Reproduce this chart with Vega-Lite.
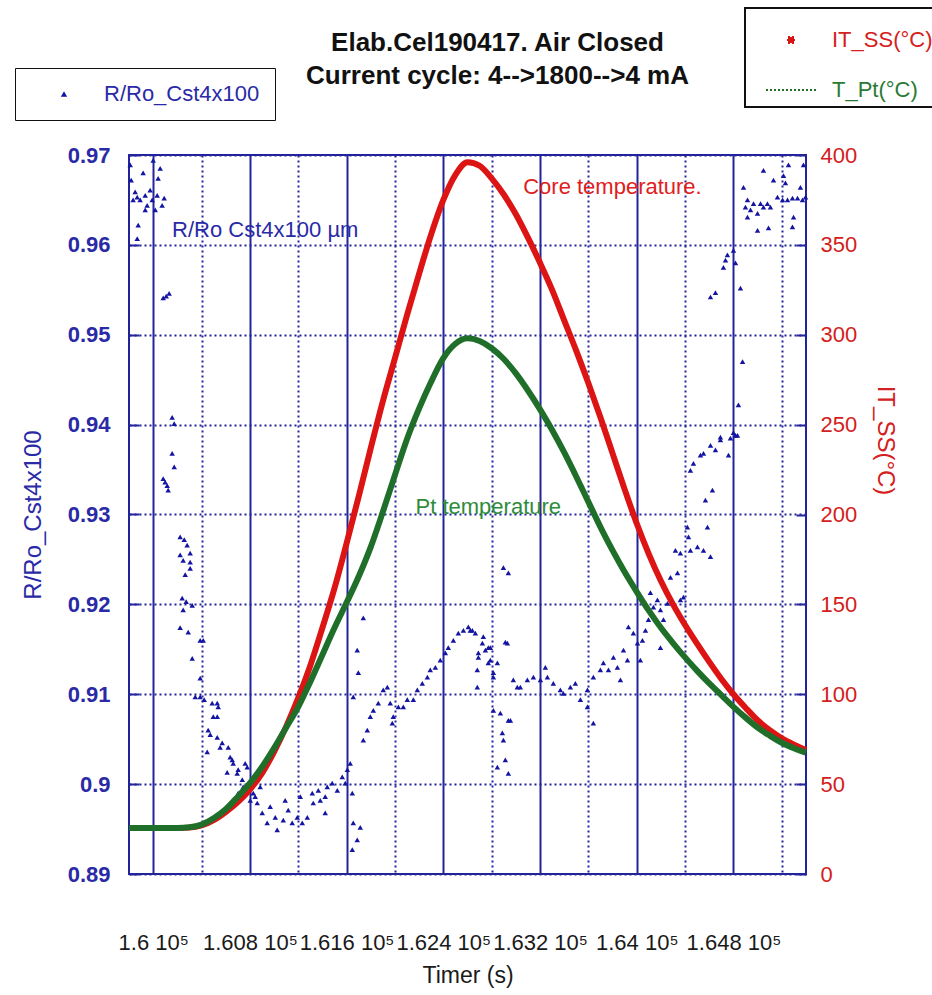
{
  "$schema": "https://vega.github.io/schema/vega-lite/v6.json",
  "width": 677,
  "height": 719,
  "autosize": "none",
  "padding": {"left": 129, "top": 155, "right": 126, "bottom": 121},
  "background": "white",
  "config": {
    "view": {"stroke": "#22229a", "strokeWidth": 2},
    "font": "Liberation Sans"
  },
  "title": {
    "text": ["Elab.Cel190417. Air Closed", "Current cycle: 4-->1800-->4 mA"],
    "anchor": "middle",
    "frame": "group",
    "dx": 30,
    "offset": -82,
    "fontSize": 26,
    "fontWeight": "bold",
    "font": "Liberation Sans",
    "color": "#111111",
    "lineHeight": 33
  },
  "datasets": {
    "pts": [
      {"t":159810,"v":0.9689},{"t":159818,"v":0.9672},{"t":159851,"v":0.9659},{"t":159868,"v":0.9653},{"t":159892,"v":0.9650},
      {"t":159917,"v":0.9680},{"t":159934,"v":0.9655},{"t":159950,"v":0.9644},{"t":159975,"v":0.9661},{"t":159992,"v":0.9650},
      {"t":160017,"v":0.9639},{"t":160033,"v":0.9655},{"t":160058,"v":0.9685},{"t":160074,"v":0.9644},{"t":160091,"v":0.9652},
      {"t":159876,"v":0.9622},{"t":159868,"v":0.9607},{"t":160000,"v":0.9694},{"t":160041,"v":0.9674},{"t":159934,"v":0.9639},
      {"t":159834,"v":0.9650},
      {"t":160083,"v":0.9541},{"t":160108,"v":0.9543},{"t":160132,"v":0.9546},
      {"t":160157,"v":0.9408},{"t":160174,"v":0.9401},{"t":160157,"v":0.9368},{"t":160174,"v":0.9353},{"t":160099,"v":0.9336},
      {"t":160124,"v":0.9327},{"t":160083,"v":0.9340},{"t":160116,"v":0.9332},
      {"t":160223,"v":0.9275},{"t":160257,"v":0.9272},{"t":160281,"v":0.9266},{"t":160306,"v":0.9257},{"t":160223,"v":0.9255},
      {"t":160248,"v":0.9249},{"t":160306,"v":0.9247},{"t":160265,"v":0.9233},{"t":160306,"v":0.9240},{"t":160240,"v":0.9207},
      {"t":160273,"v":0.9203},{"t":160323,"v":0.9199},
      {"t":160248,"v":0.9194},{"t":160223,"v":0.9174},{"t":160290,"v":0.9169},{"t":160389,"v":0.9160},{"t":160414,"v":0.9160},
      {"t":160323,"v":0.9140},{"t":160389,"v":0.9118},{"t":160348,"v":0.9097},{"t":160389,"v":0.9097},{"t":160422,"v":0.9094},
      {"t":160488,"v":0.9090},{"t":160530,"v":0.9090},{"t":160538,"v":0.9086},{"t":160497,"v":0.9075},{"t":160530,"v":0.9075},
      {"t":160455,"v":0.9060},{"t":160472,"v":0.9055},{"t":160530,"v":0.9052},{"t":160571,"v":0.9046},{"t":160621,"v":0.9041},
      {"t":160554,"v":0.9041},{"t":160447,"v":0.9036},{"t":160637,"v":0.9030},{"t":160654,"v":0.9027},{"t":160662,"v":0.9023},
      {"t":160612,"v":0.9013},{"t":160695,"v":0.9012},{"t":160703,"v":0.9016},{"t":160761,"v":0.9023},{"t":160778,"v":0.9019},
      {"t":160737,"v":0.9005},{"t":160745,"v":0.8997},{"t":160703,"v":0.8990},{"t":160803,"v":0.8982},{"t":160828,"v":0.8990},
      {"t":160844,"v":0.8986},{"t":160861,"v":0.8979},{"t":160902,"v":0.8968},{"t":160943,"v":0.8957},{"t":160968,"v":0.8975},
      {"t":161010,"v":0.8963},{"t":161026,"v":0.8949},{"t":161076,"v":0.8960},{"t":161117,"v":0.8971},{"t":161150,"v":0.8957},
      {"t":161192,"v":0.8963},{"t":161233,"v":0.8957},{"t":161275,"v":0.8963},{"t":161316,"v":0.8990},{"t":161324,"v":0.8979},
      {"t":161366,"v":0.8993},{"t":161423,"v":0.8986},{"t":161440,"v":0.8997},{"t":161481,"v":0.9001},{"t":161523,"v":0.8993},
      {"t":161564,"v":0.9008},{"t":161589,"v":0.9001},{"t":161606,"v":0.9016},{"t":161630,"v":0.9023},{"t":161647,"v":0.8990},
      {"t":161423,"v":0.8968},{"t":161655,"v":0.8957},{"t":161713,"v":0.8952},{"t":161688,"v":0.8938},{"t":161647,"v":0.8927},
      {"t":161738,"v":0.9185},{"t":161688,"v":0.9149},{"t":161697,"v":0.9124},{"t":161655,"v":0.9097},
      {"t":160885,"v":0.8997},{"t":161092,"v":0.8982},{"t":161217,"v":0.8986},{"t":161382,"v":0.8982},
      {"t":161738,"v":0.9049},{"t":161771,"v":0.9060},{"t":161796,"v":0.9075},{"t":161821,"v":0.9082},{"t":161862,"v":0.9090},
      {"t":161903,"v":0.9105},{"t":161937,"v":0.9108},{"t":161961,"v":0.9090},{"t":161986,"v":0.9075},{"t":161978,"v":0.9068},
      {"t":162028,"v":0.9086},{"t":162069,"v":0.9086},{"t":162102,"v":0.9094},{"t":162152,"v":0.9094},{"t":162185,"v":0.9105},
      {"t":162226,"v":0.9112},{"t":162268,"v":0.9119},{"t":162292,"v":0.9127},{"t":162334,"v":0.9130},{"t":162375,"v":0.9138},
      {"t":162417,"v":0.9146},{"t":162441,"v":0.9152},{"t":162483,"v":0.9160},{"t":162524,"v":0.9168},{"t":162566,"v":0.9171},
      {"t":162607,"v":0.9175},{"t":162640,"v":0.9171},{"t":162665,"v":0.9168},{"t":162690,"v":0.9146},{"t":162723,"v":0.9157},
      {"t":162748,"v":0.9149},{"t":162772,"v":0.9152},{"t":162789,"v":0.9138},{"t":162814,"v":0.9119},{"t":162681,"v":0.9127},
      {"t":162681,"v":0.9108},{"t":162814,"v":0.9082},{"t":162872,"v":0.9079},{"t":162938,"v":0.9071},{"t":162888,"v":0.9057},
      {"t":162897,"v":0.9049},{"t":162847,"v":0.9019},{"t":162913,"v":0.9027},{"t":162938,"v":0.9012},{"t":162913,"v":0.9158},
      {"t":162979,"v":0.9116},{"t":163012,"v":0.9108},{"t":162623,"v":0.9171},{"t":162731,"v":0.9164},{"t":162789,"v":0.9152},
      {"t":162690,"v":0.9141},{"t":162772,"v":0.9135},{"t":162847,"v":0.9135},{"t":162814,"v":0.9124},{"t":162930,"v":0.9157},
      {"t":162897,"v":0.9241},{"t":162938,"v":0.9235},{"t":162955,"v":0.9071},{"t":163037,"v":0.9108},{"t":163095,"v":0.9116},
      {"t":163145,"v":0.9119},{"t":163203,"v":0.9116},{"t":163244,"v":0.9130},{"t":163261,"v":0.9119},{"t":163310,"v":0.9112},
      {"t":163368,"v":0.9105},{"t":163393,"v":0.9101},{"t":163451,"v":0.9108},{"t":163492,"v":0.9112},{"t":163534,"v":0.9094},
      {"t":163592,"v":0.9086},{"t":163641,"v":0.9068},{"t":163592,"v":0.9105},{"t":163641,"v":0.9119},{"t":163699,"v":0.9127},
      {"t":163724,"v":0.9135},{"t":163766,"v":0.9127},{"t":163807,"v":0.9141},{"t":163840,"v":0.9130},{"t":163865,"v":0.9116},
      {"t":163890,"v":0.9149},{"t":163923,"v":0.9138},{"t":163931,"v":0.9175},{"t":163972,"v":0.9168},{"t":164006,"v":0.9157},
      {"t":164030,"v":0.9138},{"t":164047,"v":0.9160},{"t":164072,"v":0.9171},{"t":164097,"v":0.9183},{"t":164113,"v":0.9213},
      {"t":164138,"v":0.9197},{"t":164171,"v":0.9205},{"t":164196,"v":0.9194},{"t":164221,"v":0.9183},{"t":164254,"v":0.9201},
      {"t":164196,"v":0.9152},{"t":164279,"v":0.9230},{"t":164337,"v":0.9235},{"t":164361,"v":0.9205},{"t":164386,"v":0.9208},
      {"t":164320,"v":0.9260},{"t":164361,"v":0.9257},{"t":164444,"v":0.9260},{"t":164502,"v":0.9264},{"t":164552,"v":0.9260},
      {"t":164610,"v":0.9253},{"t":164419,"v":0.9286},{"t":164585,"v":0.9286},{"t":164428,"v":0.9275},
      {"t":164444,"v":0.9349},{"t":164527,"v":0.9366},{"t":164610,"v":0.9377},{"t":164692,"v":0.9383},{"t":164775,"v":0.9385},
      {"t":164817,"v":0.9388},{"t":164568,"v":0.9316},{"t":164626,"v":0.9327},{"t":164469,"v":0.9357},{"t":164552,"v":0.9368},
      {"t":164651,"v":0.9372},{"t":164759,"v":0.9366},{"t":164692,"v":0.9386},{"t":164800,"v":0.9391},{"t":164833,"v":0.9388},
      {"t":164841,"v":0.9422},{"t":164875,"v":0.9470},{"t":164858,"v":0.9552},{"t":164610,"v":0.9542},{"t":164651,"v":0.9547},
      {"t":164717,"v":0.9575},{"t":164734,"v":0.9583},{"t":164750,"v":0.9589},{"t":164817,"v":0.9580},{"t":164800,"v":0.9594},
      {"t":164883,"v":0.9664},{"t":164916,"v":0.9650},{"t":164941,"v":0.9639},{"t":164966,"v":0.9646},{"t":164999,"v":0.9635},
      {"t":165024,"v":0.9646},{"t":165048,"v":0.9642},{"t":165081,"v":0.9646},{"t":165106,"v":0.9642},{"t":165164,"v":0.9653},
      {"t":165206,"v":0.9650},{"t":165247,"v":0.9650},{"t":165288,"v":0.9652},{"t":165330,"v":0.9652},{"t":165371,"v":0.9650},
      {"t":165396,"v":0.9653},{"t":164916,"v":0.9631},{"t":164999,"v":0.9616},{"t":165090,"v":0.9619},{"t":165288,"v":0.9620},
      {"t":165297,"v":0.9631},{"t":165048,"v":0.9683},{"t":165131,"v":0.9672},{"t":165214,"v":0.9677},{"t":165255,"v":0.9689},
      {"t":165379,"v":0.9689},{"t":165354,"v":0.9664},{"t":165230,"v":0.9669},{"t":164899,"v":0.9642}
    ],
    "temps": [
      {"t":159800,"T":25.6,"s":"IT_SS(°C)"},{"t":159900,"T":25.6,"s":"IT_SS(°C)"},{"t":160000,"T":25.6,"s":"IT_SS(°C)"},
      {"t":160100,"T":25.6,"s":"IT_SS(°C)"},{"t":160200,"T":25.6,"s":"IT_SS(°C)"},{"t":160300,"T":25.8,"s":"IT_SS(°C)"},
      {"t":160400,"T":27,"s":"IT_SS(°C)"},{"t":160500,"T":30,"s":"IT_SS(°C)"},{"t":160600,"T":34.5,"s":"IT_SS(°C)"},
      {"t":160700,"T":40,"s":"IT_SS(°C)"},{"t":160800,"T":47,"s":"IT_SS(°C)"},{"t":160900,"T":56,"s":"IT_SS(°C)"},
      {"t":161000,"T":68,"s":"IT_SS(°C)"},{"t":161100,"T":82,"s":"IT_SS(°C)"},{"t":161200,"T":98,"s":"IT_SS(°C)"},
      {"t":161300,"T":116,"s":"IT_SS(°C)"},{"t":161400,"T":137,"s":"IT_SS(°C)"},{"t":161500,"T":159,"s":"IT_SS(°C)"},
      {"t":161600,"T":184,"s":"IT_SS(°C)"},{"t":161700,"T":210,"s":"IT_SS(°C)"},{"t":161800,"T":237,"s":"IT_SS(°C)"},
      {"t":161900,"T":263,"s":"IT_SS(°C)"},{"t":162000,"T":287,"s":"IT_SS(°C)"},{"t":162100,"T":311,"s":"IT_SS(°C)"},
      {"t":162200,"T":334,"s":"IT_SS(°C)"},{"t":162300,"T":356,"s":"IT_SS(°C)"},{"t":162400,"T":375,"s":"IT_SS(°C)"},
      {"t":162500,"T":389,"s":"IT_SS(°C)"},{"t":162600,"T":396,"s":"IT_SS(°C)"},{"t":162700,"T":394,"s":"IT_SS(°C)"},
      {"t":162800,"T":387,"s":"IT_SS(°C)"},{"t":162900,"T":378,"s":"IT_SS(°C)"},{"t":163000,"T":367,"s":"IT_SS(°C)"},
      {"t":163100,"T":354,"s":"IT_SS(°C)"},{"t":163200,"T":340,"s":"IT_SS(°C)"},{"t":163300,"T":325,"s":"IT_SS(°C)"},
      {"t":163400,"T":308,"s":"IT_SS(°C)"},{"t":163500,"T":291,"s":"IT_SS(°C)"},{"t":163600,"T":273,"s":"IT_SS(°C)"},
      {"t":163700,"T":254,"s":"IT_SS(°C)"},{"t":163800,"T":234,"s":"IT_SS(°C)"},{"t":163900,"T":214,"s":"IT_SS(°C)"},
      {"t":164000,"T":195,"s":"IT_SS(°C)"},{"t":164100,"T":178,"s":"IT_SS(°C)"},{"t":164200,"T":163,"s":"IT_SS(°C)"},
      {"t":164300,"T":150,"s":"IT_SS(°C)"},{"t":164400,"T":138.5,"s":"IT_SS(°C)"},{"t":164500,"T":128,"s":"IT_SS(°C)"},
      {"t":164600,"T":118,"s":"IT_SS(°C)"},{"t":164700,"T":108.5,"s":"IT_SS(°C)"},{"t":164800,"T":100,"s":"IT_SS(°C)"},
      {"t":164900,"T":92.5,"s":"IT_SS(°C)"},{"t":165000,"T":85.5,"s":"IT_SS(°C)"},{"t":165100,"T":80,"s":"IT_SS(°C)"},
      {"t":165200,"T":75.5,"s":"IT_SS(°C)"},{"t":165300,"T":72,"s":"IT_SS(°C)"},{"t":165400,"T":69,"s":"IT_SS(°C)"},
      {"t":159800,"T":25.6,"s":"T_Pt(°C)"},{"t":159900,"T":25.6,"s":"T_Pt(°C)"},{"t":160000,"T":25.6,"s":"T_Pt(°C)"},
      {"t":160100,"T":25.6,"s":"T_Pt(°C)"},{"t":160200,"T":25.6,"s":"T_Pt(°C)"},{"t":160300,"T":26,"s":"T_Pt(°C)"},
      {"t":160400,"T":27.5,"s":"T_Pt(°C)"},{"t":160500,"T":31,"s":"T_Pt(°C)"},{"t":160600,"T":36,"s":"T_Pt(°C)"},
      {"t":160700,"T":43,"s":"T_Pt(°C)"},{"t":160800,"T":50.5,"s":"T_Pt(°C)"},{"t":160900,"T":59.5,"s":"T_Pt(°C)"},
      {"t":161000,"T":70,"s":"T_Pt(°C)"},{"t":161100,"T":81.5,"s":"T_Pt(°C)"},{"t":161200,"T":93,"s":"T_Pt(°C)"},
      {"t":161300,"T":107,"s":"T_Pt(°C)"},{"t":161400,"T":122,"s":"T_Pt(°C)"},{"t":161500,"T":137,"s":"T_Pt(°C)"},
      {"t":161600,"T":151,"s":"T_Pt(°C)"},{"t":161700,"T":165.5,"s":"T_Pt(°C)"},{"t":161800,"T":182,"s":"T_Pt(°C)"},
      {"t":161900,"T":201.5,"s":"T_Pt(°C)"},{"t":162000,"T":222,"s":"T_Pt(°C)"},{"t":162100,"T":242,"s":"T_Pt(°C)"},
      {"t":162200,"T":259,"s":"T_Pt(°C)"},{"t":162300,"T":274,"s":"T_Pt(°C)"},{"t":162400,"T":287,"s":"T_Pt(°C)"},
      {"t":162500,"T":295,"s":"T_Pt(°C)"},{"t":162600,"T":298,"s":"T_Pt(°C)"},{"t":162700,"T":296.5,"s":"T_Pt(°C)"},
      {"t":162800,"T":292.5,"s":"T_Pt(°C)"},{"t":162900,"T":286.5,"s":"T_Pt(°C)"},{"t":163000,"T":278.5,"s":"T_Pt(°C)"},
      {"t":163100,"T":269,"s":"T_Pt(°C)"},{"t":163200,"T":258.5,"s":"T_Pt(°C)"},{"t":163300,"T":247,"s":"T_Pt(°C)"},
      {"t":163400,"T":234.5,"s":"T_Pt(°C)"},{"t":163500,"T":221,"s":"T_Pt(°C)"},{"t":163600,"T":207,"s":"T_Pt(°C)"},
      {"t":163700,"T":193,"s":"T_Pt(°C)"},{"t":163800,"T":180,"s":"T_Pt(°C)"},{"t":163900,"T":168,"s":"T_Pt(°C)"},
      {"t":164000,"T":157,"s":"T_Pt(°C)"},{"t":164100,"T":146.5,"s":"T_Pt(°C)"},{"t":164200,"T":137,"s":"T_Pt(°C)"},
      {"t":164300,"T":128.5,"s":"T_Pt(°C)"},{"t":164400,"T":120.5,"s":"T_Pt(°C)"},{"t":164500,"T":113,"s":"T_Pt(°C)"},
      {"t":164600,"T":106,"s":"T_Pt(°C)"},{"t":164700,"T":99.5,"s":"T_Pt(°C)"},{"t":164800,"T":93,"s":"T_Pt(°C)"},
      {"t":164900,"T":87,"s":"T_Pt(°C)"},{"t":165000,"T":81.5,"s":"T_Pt(°C)"},{"t":165100,"T":77,"s":"T_Pt(°C)"},
      {"t":165200,"T":73,"s":"T_Pt(°C)"},{"t":165300,"T":70,"s":"T_Pt(°C)"},{"t":165400,"T":67.5,"s":"T_Pt(°C)"}
    ]
  },
  "layer": [
    {
      "layer": [
        {
          "data": {"name": "pts"},
          "mark": {"type": "point", "shape": "triangle-up", "filled": true, "size": 30, "opacity": 1},
          "encoding": {
            "x": {
              "field": "t", "type": "quantitative",
              "scale": {"domain": [159800, 165400], "nice": false, "zero": false},
              "axis": {
                "orient": "bottom",
                "values": [160000,160200,160400,160600,160800,161000,161200,161400,161600,161800,162000,162200,162400,162600,162800,163000,163200,163400,163600,163800,164000,164200,164400,164600,164800,165000,165200],
                "labelExpr": "datum.value % 800 === 0 ? format(datum.value / 100000, '.4~f') + ' 10⁵' : ''",
                "labelOverlap": false,
                "labelBound": false,
                "labelFlush": false,
                "labelFont": "Liberation Sans",
                "labelFontSize": 22,
                "labelColor": "#1a1a1a",
                "labelPadding": 58,
                "ticks": false,
                "domain": false,
                "grid": true,
                "gridColor": "#24249c",
                "gridOpacity": 1,
                "gridWidth": 2,
                "gridDash": {"condition": {"test": "datum.value % 800 === 0", "value": []}, "value": [2, 3]},
                "title": "Timer (s)",
                "titleFont": "Liberation Sans",
                "titleFontSize": 23,
                "titleFontWeight": "normal",
                "titleColor": "#1a1a1a",
                "titlePadding": 11
              }
            },
            "y": {
              "field": "v", "type": "quantitative",
              "scale": {"domain": [0.89, 0.97], "nice": false, "zero": false},
              "axis": {
                "orient": "left",
                "values": [0.89, 0.9, 0.91, 0.92, 0.93, 0.94, 0.95, 0.96, 0.97],
                "format": ".2~f",
                "labelFont": "Liberation Sans",
                "labelFontSize": 22,
                "labelFontWeight": "bold",
                "labelColor": "#2a2aa6",
                "labelPadding": 29,
                "ticks": true,
                "tickSize": -10,
                "tickWidth": 2,
                "tickColor": "#24249c",
                "domain": false,
                "grid": true,
                "gridColor": "#24249c",
                "gridOpacity": 1,
                "gridWidth": 2,
                "gridDash": [2, 3],
                "title": "R/Ro_Cst4x100",
                "titleFont": "Liberation Sans",
                "titleFontSize": 24,
                "titleFontWeight": "normal",
                "titleColor": "#2a2aa6",
                "titlePadding": 22
              }
            },
            "color": {
              "datum": "R/Ro_Cst4x100",
              "type": "nominal",
              "scale": {"range": ["#1414a2"]},
              "legend": {
                "orient": "none",
                "legendX": -114,
                "legendY": -87,
                "title": null,
                "symbolType": "triangle-up",
                "symbolSize": 40,
                "symbolOffset": 23,
                "labelOffset": 29,
                "labelFont": "Liberation Sans",
                "labelFontSize": 22,
                "labelColor": "#2a2aa6",
                "padding": 15,
                "strokeColor": "#111111",
                "fillColor": "white",
                "encode": {"legend": {"update": {"strokeWidth": {"value": 2}}}}
              }
            }
          }
        },
        {
          "data": {"values": [{"t": 160927, "v": 0.9616, "label": "R/Ro Cst4x100 µm"}]},
          "mark": {"type": "text", "align": "center", "baseline": "middle", "font": "Liberation Sans", "fontSize": 22, "color": "#2a2aa6"},
          "encoding": {
            "x": {"field": "t", "type": "quantitative"},
            "y": {"field": "v", "type": "quantitative"},
            "text": {"field": "label"}
          }
        },
        {
          "data": {"values": [{"t": 163799, "v": 0.9664, "label": "Core temperature."}]},
          "mark": {"type": "text", "align": "center", "baseline": "middle", "font": "Liberation Sans", "fontSize": 22, "color": "#e02020"},
          "encoding": {
            "x": {"field": "t", "type": "quantitative"},
            "y": {"field": "v", "type": "quantitative"},
            "text": {"field": "label"}
          }
        },
        {
          "data": {"values": [{"t": 162772, "v": 0.9308, "label": "Pt temperature"}]},
          "mark": {"type": "text", "align": "center", "baseline": "middle", "font": "Liberation Sans", "fontSize": 22, "color": "#2e8b3a"},
          "encoding": {
            "x": {"field": "t", "type": "quantitative"},
            "y": {"field": "v", "type": "quantitative"},
            "text": {"field": "label"}
          }
        }
      ]
    },
    {
      "data": {"name": "temps"},
      "mark": {"type": "line", "strokeWidth": 6, "interpolate": "monotone"},
      "encoding": {
        "x": {"field": "t", "type": "quantitative"},
        "y": {
          "field": "T", "type": "quantitative",
          "scale": {"domain": [0, 400], "nice": false},
          "axis": {
            "orient": "right",
            "values": [0, 50, 100, 150, 200, 250, 300, 350, 400],
            "labelFont": "Liberation Sans",
            "labelFontSize": 22,
            "labelColor": "#d42020",
            "labelPadding": 24,
            "ticks": true,
            "tickSize": -10,
            "tickWidth": 2,
            "tickColor": "#24249c",
            "domain": false,
            "grid": false,
            "title": "IT_SS(°C)",
            "titleFont": "Liberation Sans",
            "titleFontSize": 24,
            "titleFontWeight": "normal",
            "titleColor": "#d42020",
            "titleAngle": 90,
            "titleX": 66,
            "titleY": 285
          }
        },
        "color": {
          "field": "s",
          "type": "nominal",
          "scale": {"domain": ["IT_SS(°C)", "T_Pt(°C)"], "range": ["#dc1414", "#1f6f2a"]},
          "legend": {
            "orient": "none",
            "legendX": 616,
            "legendY": -147,
            "title": null,
            "labelFont": "Liberation Sans",
            "labelFontSize": 22,
            "padding": 6,
            "rowPadding": 13,
            "symbolOffset": 14,
            "labelOffset": 15,
            "strokeColor": "#111111",
            "fillColor": "white",
            "symbolDash": [2, 2],
            "symbolStrokeWidth": 2,
            "encode": {
              "legend": {"update": {"strokeWidth": {"value": 2}}},
              "symbols": {
                "update": {
                  "shape": {"signal": "datum.value === 'IT_SS(°C)' ? 'square' : 'stroke'"},
                  "size": {"signal": "datum.value === 'IT_SS(°C)' ? 36 : 2500"},
                  "fill": {"signal": "datum.value === 'IT_SS(°C)' ? '#d01818' : 'transparent'"},
                  "stroke": {"signal": "datum.value === 'IT_SS(°C)' ? 'transparent' : '#1f6f2a'"}
                }
              },
              "labels": {
                "update": {
                  "fill": {"signal": "datum.value === 'IT_SS(°C)' ? '#d42020' : '#2a7a34'"}
                }
              }
            }
          }
        }
      }
    }
  ],
  "resolve": {"scale": {"y": "independent", "color": "independent"}, "legend": {"color": "independent"}}
}
